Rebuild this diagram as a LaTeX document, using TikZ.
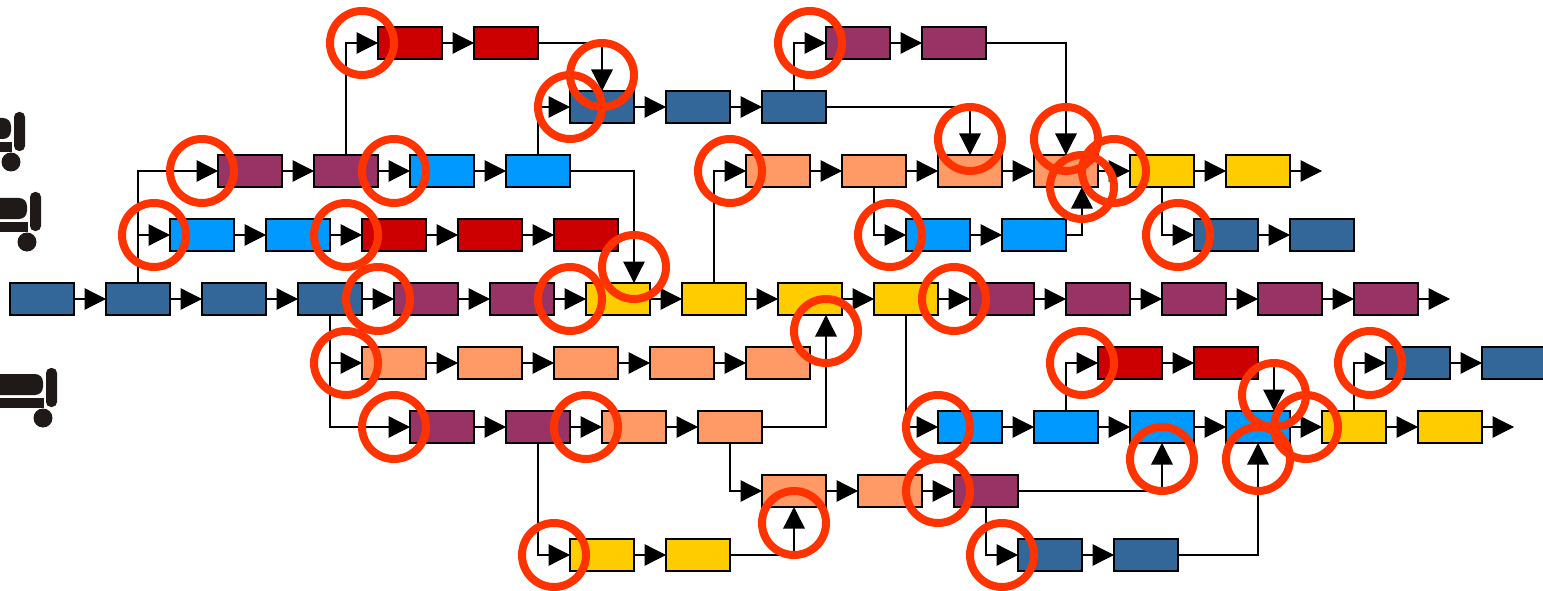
\documentclass[tikz,border=0pt]{standalone}
\usetikzlibrary{arrows.meta}

\definecolor{dkblue}{HTML}{336699}
\definecolor{ltblue}{HTML}{0099FF}
\definecolor{plum}{HTML}{993366}
\definecolor{redbar}{HTML}{CC0000}
\definecolor{peach}{HTML}{FF9966}
\definecolor{amber}{HTML}{FFCC00}
\definecolor{ringred}{HTML}{FF3300}
\definecolor{bedgray}{HTML}{1F1A17}

\tikzset{
	bar/.style={draw=black,line width=1.7pt,minimum width=64pt,minimum height=32pt,inner sep=0pt,outer sep=0pt},
	dkbar/.style={bar,fill=dkblue},
	ltbar/.style={bar,fill=ltblue},
	plumbar/.style={bar,fill=plum},
	redsbar/.style={bar,fill=redbar},
	peachbar/.style={bar,fill=peach},
	amberbar/.style={bar,fill=amber},
	link/.style={line width=1.3pt,-{Triangle[length=21.5pt,width=21.5pt]}},
	ring/.style={circle,draw=ringred,line width=8pt,minimum size=64pt,inner sep=0pt},
	bedicon/.pic={
		\fill [bedgray,rounded corners=5pt] (0,0) rectangle (11,39);
		\fill [bedgray,rounded corners=8pt] (-60,6) -- (-3,6) -- (-3,27) [sharp corners] -- (-60,27) -- cycle;
		\fill [bedgray] (-60,30) rectangle (-2,40);
		\fill [bedgray] (-3,50) circle (9.5);
	}
}

\begin{document}
\begin{tikzpicture}[x=1pt,y=-1pt]
	\useasboundingbox (0,0) rectangle (1543,591);

	% beds on the left
	\pic at (14,112) {bedicon};
	\pic at (30,192) {bedicon};
	\pic at (46,368) {bedicon};

	% row 1
	\node [redsbar] (A1) at (410,43) {};
	\node [redsbar] (A2) at (506,43) {};
	\node [plumbar] (A3) at (858,43) {};
	\node [plumbar] (A4) at (954,43) {};

	% row 2
	\node [dkbar] (B1) at (602,107) {};
	\node [dkbar] (B2) at (698,107) {};
	\node [dkbar] (B3) at (794,107) {};

	% row 3
	\node [plumbar] (C1) at (250,171) {};
	\node [plumbar] (C2) at (346,171) {};
	\node [ltbar] (C3) at (442,171) {};
	\node [ltbar] (C4) at (538,171) {};
	\node [peachbar] (C5) at (778,171) {};
	\node [peachbar] (C6) at (874,171) {};
	\node [peachbar] (C7) at (970,171) {};
	\node [peachbar] (C8) at (1066,171) {};
	\node [amberbar] (C9) at (1162,171) {};
	\node [amberbar] (C10) at (1258,171) {};
	\coordinate (Cend) at (1322,171);

	% row 4
	\node [ltbar] (D1) at (202,235) {};
	\node [ltbar] (D2) at (298,235) {};
	\node [redsbar] (D3) at (394,235) {};
	\node [redsbar] (D4) at (490,235) {};
	\node [redsbar] (D5) at (586,235) {};
	\node [ltbar] (D6) at (938,235) {};
	\node [ltbar] (D7) at (1034,235) {};
	\node [dkbar] (D8) at (1226,235) {};
	\node [dkbar] (D9) at (1322,235) {};

	% row 5
	\node [dkbar] (E1) at (42,299) {};
	\node [dkbar] (E2) at (138,299) {};
	\node [dkbar] (E3) at (234,299) {};
	\node [dkbar] (E4) at (330,299) {};
	\node [plumbar] (E5) at (426,299) {};
	\node [plumbar] (E6) at (522,299) {};
	\node [amberbar] (E7) at (618,299) {};
	\node [amberbar] (E8) at (714,299) {};
	\node [amberbar] (E9) at (810,299) {};
	\node [amberbar] (E10) at (906,299) {};
	\node [plumbar] (E11) at (1002,299) {};
	\node [plumbar] (E12) at (1098,299) {};
	\node [plumbar] (E13) at (1194,299) {};
	\node [plumbar] (E14) at (1290,299) {};
	\node [plumbar] (E15) at (1386,299) {};
	\coordinate (Eend) at (1450,299);

	% row 6
	\node [peachbar] (F1) at (394,363) {};
	\node [peachbar] (F2) at (490,363) {};
	\node [peachbar] (F3) at (586,363) {};
	\node [peachbar] (F4) at (682,363) {};
	\node [peachbar] (F5) at (778,363) {};
	\node [redsbar] (F6) at (1130,363) {};
	\node [redsbar] (F7) at (1226,363) {};
	\node [dkbar] (F8) at (1418,363) {};
	\node [dkbar] (F9) at (1514,363) {};

	% row 7
	\node [plumbar] (G1) at (442,427) {};
	\node [plumbar] (G2) at (538,427) {};
	\node [peachbar] (G3) at (634,427) {};
	\node [peachbar] (G4) at (730,427) {};
	\node [ltbar] (G5) at (970,427) {};
	\node [ltbar] (G6) at (1066,427) {};
	\node [ltbar] (G7) at (1162,427) {};
	\node [ltbar] (G8) at (1258,427) {};
	\node [amberbar] (G9) at (1354,427) {};
	\node [amberbar] (G10) at (1450,427) {};
	\coordinate (Gend) at (1514,427);

	% row 8
	\node [peachbar] (H1) at (794,491) {};
	\node [peachbar] (H2) at (890,491) {};
	\node [plumbar] (H3) at (986,491) {};

	% row 9
	\node [amberbar] (I1) at (602,555) {};
	\node [amberbar] (I2) at (698,555) {};
	\node [dkbar] (I3) at (1050,555) {};
	\node [dkbar] (I4) at (1146,555) {};

	% straight links
	\draw [link] (A1) -- (A2);
	\draw [link] (A3) -- (A4);
	\draw [link] (B1) -- (B2);
	\draw [link] (B2) -- (B3);
	\draw [link] (C1) -- (C2);
	\draw [link] (C2) -- (C3);
	\draw [link] (C3) -- (C4);
	\draw [link] (C5) -- (C6);
	\draw [link] (C6) -- (C7);
	\draw [link] (C7) -- (C8);
	\draw [link] (C8) -- (C9);
	\draw [link] (C9) -- (C10);
	\draw [link] (C10) -- (Cend);
	\draw [link] (D1) -- (D2);
	\draw [link] (D2) -- (D3);
	\draw [link] (D3) -- (D4);
	\draw [link] (D4) -- (D5);
	\draw [link] (D6) -- (D7);
	\draw [link] (D8) -- (D9);
	\draw [link] (E1) -- (E2);
	\draw [link] (E2) -- (E3);
	\draw [link] (E3) -- (E4);
	\draw [link] (E4) -- (E5);
	\draw [link] (E5) -- (E6);
	\draw [link] (E6) -- (E7);
	\draw [link] (E7) -- (E8);
	\draw [link] (E8) -- (E9);
	\draw [link] (E9) -- (E10);
	\draw [link] (E10) -- (E11);
	\draw [link] (E11) -- (E12);
	\draw [link] (E12) -- (E13);
	\draw [link] (E13) -- (E14);
	\draw [link] (E14) -- (E15);
	\draw [link] (E15) -- (Eend);
	\draw [link] (F1) -- (F2);
	\draw [link] (F2) -- (F3);
	\draw [link] (F3) -- (F4);
	\draw [link] (F4) -- (F5);
	\draw [link] (F6) -- (F7);
	\draw [link] (F8) -- (F9);
	\draw [link] (G1) -- (G2);
	\draw [link] (G2) -- (G3);
	\draw [link] (G3) -- (G4);
	\draw [link] (G5) -- (G6);
	\draw [link] (G6) -- (G7);
	\draw [link] (G7) -- (G8);
	\draw [link] (G8) -- (G9);
	\draw [link] (G9) -- (G10);
	\draw [link] (G10) -- (Gend);
	\draw [link] (H1) -- (H2);
	\draw [link] (H2) -- (H3);
	\draw [link] (I1) -- (I2);
	\draw [link] (I3) -- (I4);

	% branches leaving a bar
	\draw [link] (E2.north) |- (C1.west);
	\draw [link] (E2.north) |- (D1.west);
	\draw [link] (C2.north) |- (A1.west);
	\draw [link] (C4.north) |- (B1.west);
	\draw [link] (B3.north) |- (A3.west);
	\draw [link] (E8.north) |- (C5.west);
	\draw [link] (C6.south) |- (D6.west);
	\draw [link] (C9.south) |- (D8.west);
	\draw [link] (E4.south) |- (F1.west);
	\draw [link] (E4.south) |- (G1.west);
	\draw [link] (G2.south) |- (I1.west);
	\draw [link] (G4.south) |- (H1.west);
	\draw [link] (E10.south) |- (G5.west);
	\draw [link] (G6.north) |- (F6.west);
	\draw [link] (G9.north) |- (F8.west);
	\draw [link] (H3.south) |- (I3.west);

	% merges entering a bar from above or below
	\draw [link] (A2.east) -| (B1.north);
	\draw [link] (C4.east) -| ([xshift=16pt]E7.north);
	\draw [link] (B3.east) -| (C7.north);
	\draw [link] (A4.east) -| (C8.north);
	\draw [link] (D7.east) -| ([xshift=16pt]C8.south);
	\draw [link] (G4.east) -| ([xshift=16pt]E9.south);
	\draw [link] (I2.east) -| (H1.south);
	\draw [link] (F7.east) -| ([xshift=16pt]G8.north);
	\draw [link] (H3.east) -| (G7.south);
	\draw [link] (I4.east) -| (G8.south);

	% red circles
	\node [ring] (ring1) at (362,43) {};
	\node [ring] (ring2) at (810,43) {};
	\node [ring] (ring3) at (602,75) {};
	\node [ring] (ring4) at (570,107) {};
	\node [ring] (ring5) at (970,139) {};
	\node [ring] (ring6) at (1066,139) {};
	\node [ring] (ring7) at (202,171) {};
	\node [ring] (ring8) at (394,171) {};
	\node [ring] (ring9) at (730,171) {};
	\node [ring] (ring10) at (1114,171) {};
	\node [ring] (ring11) at (1082,187) {};
	\node [ring] (ring12) at (154,235) {};
	\node [ring] (ring13) at (346,235) {};
	\node [ring] (ring14) at (890,235) {};
	\node [ring] (ring15) at (1178,235) {};
	\node [ring] (ring16) at (634,267) {};
	\node [ring] (ring17) at (378,299) {};
	\node [ring] (ring18) at (570,299) {};
	\node [ring] (ring19) at (954,299) {};
	\node [ring] (ring20) at (826,331) {};
	\node [ring] (ring21) at (346,363) {};
	\node [ring] (ring22) at (1082,363) {};
	\node [ring] (ring23) at (1370,363) {};
	\node [ring] (ring24) at (1274,395) {};
	\node [ring] (ring25) at (394,427) {};
	\node [ring] (ring26) at (586,427) {};
	\node [ring] (ring27) at (938,427) {};
	\node [ring] (ring28) at (1306,427) {};
	\node [ring] (ring29) at (1162,459) {};
	\node [ring] (ring30) at (1258,459) {};
	\node [ring] (ring31) at (938,491) {};
	\node [ring] (ring32) at (794,523) {};
	\node [ring] (ring33) at (554,555) {};
	\node [ring] (ring34) at (1002,555) {};
\end{tikzpicture}
\end{document}
